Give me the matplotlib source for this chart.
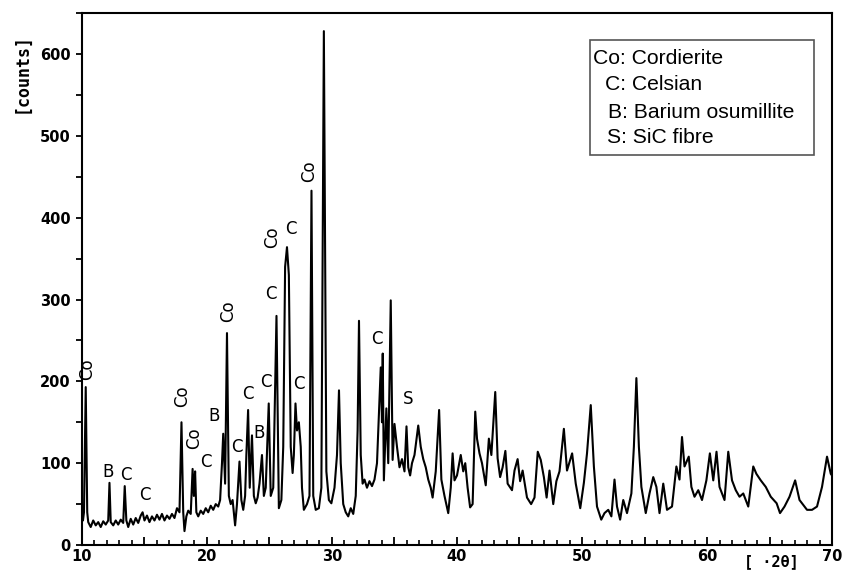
import matplotlib.pyplot as plt
from matplotlib.ticker import MultipleLocator, FuncFormatter

# XRD pattern (2theta in degrees, intensity in counts)
two_theta = [
    10.0, 10.08, 10.16, 10.3, 10.42, 10.5, 10.7, 10.9, 11.1, 11.3, 11.5, 11.7, 11.9,
    12.1, 12.2, 12.3, 12.5, 12.7, 12.9, 13.1, 13.3, 13.42, 13.55, 13.7, 13.9, 14.1,
    14.3, 14.5, 14.7, 14.85, 15.0, 15.2, 15.4, 15.6, 15.8, 16.0, 16.2, 16.4, 16.6,
    16.8, 17.0, 17.2, 17.4, 17.6, 17.8, 17.96, 18.1, 18.2, 18.35, 18.5, 18.7, 18.85,
    18.95, 19.05, 19.15, 19.3, 19.5, 19.7, 19.9, 20.1, 20.3, 20.5, 20.7, 20.9, 21.05,
    21.2, 21.3, 21.45, 21.6, 21.75, 21.9, 22.05, 22.25, 22.4, 22.6, 22.75, 22.9, 23.05,
    23.15, 23.29, 23.42, 23.6, 23.75, 23.9, 24.05, 24.2, 24.4, 24.55, 24.7, 24.94, 25.1,
    25.3, 25.56, 25.75, 25.95, 26.1, 26.25, 26.4, 26.55, 26.7, 26.85, 26.95, 27.08,
    27.2, 27.35, 27.5, 27.6, 27.75, 28.0, 28.2, 28.36, 28.5, 28.7, 28.95, 29.15, 29.35,
    29.55, 29.75, 29.95, 30.2, 30.4, 30.56, 30.7, 30.9, 31.1, 31.3, 31.5, 31.7, 31.9,
    32.05, 32.16, 32.3, 32.45, 32.6, 32.8, 33.0, 33.2, 33.4, 33.6, 33.75, 33.9, 34.0,
    34.06, 34.15, 34.35, 34.5, 34.7, 34.85, 35.0, 35.2, 35.4, 35.6, 35.8, 35.96, 36.1,
    36.25, 36.4, 36.6, 36.9, 37.1, 37.3, 37.5, 37.7, 37.9, 38.05, 38.3, 38.57, 38.75,
    39.0, 39.3, 39.5, 39.65, 39.8, 40.0, 40.3, 40.5, 40.66, 40.85, 41.05, 41.25, 41.46,
    41.6, 41.8, 42.0, 42.3, 42.55, 42.75, 43.06, 43.25, 43.45, 43.65, 43.87, 44.05,
    44.4, 44.6, 44.85, 45.05, 45.25, 45.6, 45.93, 46.2, 46.46, 46.7, 46.95, 47.17, 47.4,
    47.7, 47.95, 48.2, 48.55, 48.8, 49.21, 49.5, 49.86, 50.15, 50.4, 50.7, 50.95, 51.2,
    51.54, 51.8, 52.1, 52.35, 52.6, 52.8, 53.05, 53.3, 53.6, 53.95, 54.15, 54.35, 54.55,
    54.75, 55.1, 55.4, 55.7, 55.95, 56.2, 56.5, 56.8, 57.2, 57.55, 57.8, 58.0, 58.2,
    58.54, 58.75, 59.0, 59.3, 59.6, 59.95, 60.23, 60.5, 60.76, 61.0, 61.4, 61.7, 62.0,
    62.3, 62.6, 62.9, 63.3, 63.7, 63.95, 64.3, 64.7, 65.1, 65.57, 65.84, 66.2, 66.6,
    67.05, 67.4, 68.0, 68.4, 68.8, 69.2, 69.6, 69.9, 70.0,
]
counts = [
    46, 30, 40, 193, 40, 28, 22, 30, 24, 28, 22, 29, 25,
    30, 76, 28, 24, 30, 25, 31, 27, 72, 30, 22, 32, 25,
    33, 27, 36, 40, 30, 36, 28, 35, 30, 37, 31, 38, 30,
    36, 32, 38, 33, 45, 40, 150, 40, 17, 35, 42, 38, 93,
    60, 90, 40, 35, 42, 38, 45, 40, 48, 43, 50, 47, 55,
    100, 136, 75, 259, 60, 50, 55, 24, 50, 102, 55, 43, 60,
    110, 165, 70, 134, 60, 51, 58, 75, 110, 60, 70, 173, 60,
    70, 280, 45, 55, 120, 340, 364, 330, 120, 88, 110, 173,
    140, 150, 120, 70, 43, 50, 60, 433, 60, 43, 45, 70, 628,
    90, 55, 51, 70, 110, 189, 100, 50, 40, 35, 45, 38, 60,
    140, 274, 110, 75, 80, 70, 78, 72, 80, 100, 160, 217, 150,
    234, 79, 167, 100, 299, 104, 148, 120, 95, 105, 90, 145, 95,
    85, 100, 110, 146, 120, 105, 95, 80, 70, 58, 90, 165, 80,
    60, 39, 70, 112, 79, 85, 110, 90, 100, 70, 46, 50, 163,
    130, 112, 100, 73, 130, 110, 187, 106, 83, 95, 115, 75,
    67, 91, 105, 78, 91, 58, 50, 58, 114, 104, 83, 58, 91,
    50, 78, 90, 142, 91, 112, 75, 45, 76, 112, 171, 96, 47,
    31, 39, 43, 35, 80, 47, 31, 55, 39, 63, 120, 204, 120,
    71, 39, 63, 83, 71, 39, 75, 43, 47, 96, 80, 132, 96,
    108, 71, 59, 67, 55, 79, 112, 79, 114, 71, 55, 114, 79,
    67, 59, 63, 47, 96, 87, 79, 71, 59, 51, 39, 47, 59,
    79, 55, 43, 43, 47, 71, 108, 87, 85,
]

# phase labels over the peaks
peak_names = ['Co', 'B', 'C', 'C', 'Co', 'Co', 'C', 'B', 'Co', 'C', 'C', 'B', 'C',
              'C', 'Co', 'C', 'C', 'Co', 'C', 'S']
peak_x = [10.45, 12.1, 13.5, 15.0, 18.0, 19.0, 19.9, 20.6, 21.7, 22.4, 23.3, 24.2, 24.7,
          25.15, 25.2, 26.7, 27.35, 28.15, 33.6, 36.1]
peak_y = [215, 89, 85, 61, 182, 131, 102, 158, 286, 120, 185, 137, 199,
          307, 376, 386, 197, 457, 252, 179]

legend_lines = ['Co: Cordierite', 'C: Celsian', 'B: Barium osumillite', 'S: SiC fibre']


def plot_pattern():
    fig = plt.figure(figsize=(8.53, 5.71), dpi=100)
    ax = fig.add_axes([0.0961, 0.0455, 0.8793, 0.9315])

    ax.plot(two_theta, counts, color='black', linewidth=1.5)

    for name, x, y in zip(peak_names, peak_x, peak_y):
        rot = 90 if name == 'Co' else 0
        ax.text(x, y, name, rotation=rot, ha='center', va='center',
                fontsize=12, family='DejaVu Sans')

    ax.set_xlim(10, 70)
    ax.set_ylim(0, 650)

    ax.xaxis.set_major_locator(MultipleLocator(5))
    ax.xaxis.set_minor_locator(MultipleLocator(1))
    ax.xaxis.set_major_formatter(FuncFormatter(lambda v, p: '%d' % v if v % 10 == 0 else ''))
    ax.yaxis.set_major_locator(MultipleLocator(100))
    ax.yaxis.set_minor_locator(MultipleLocator(50))

    ax.tick_params(axis='x', which='major', direction='in', length=6, width=1.3, pad=3)
    ax.tick_params(axis='x', which='minor', direction='in', length=3.5, width=1.2)
    ax.tick_params(axis='y', which='both', direction='out', length=4, width=1.3, pad=4)
    for lab in ax.get_xticklabels() + ax.get_yticklabels():
        lab.set_fontweight('bold')
        lab.set_fontsize(10.5)

    for sp in ax.spines.values():
        sp.set_linewidth(1.5)

    # legend box of the phases
    ax.add_patch(plt.Rectangle((50.66, 477), 17.88, 140, fill=False,
                               edgecolor='#555555', linewidth=1.2))
    line_x = [50.9, 51.85, 52.1, 52.0]
    line_y = [594, 563, 528, 498]
    for txt, x, y in zip(legend_lines, line_x, line_y):
        ax.text(x, y, txt, ha='left', va='center', fontsize=15.2, family='Liberation Sans')

    fig.text(0.025, 0.873, '[counts]', rotation=90, ha='center', va='center',
             fontsize=12, fontweight='bold', family='DejaVu Sans Mono')
    fig.text(0.904, 0.017, '[ \u00b72\u03b8]', ha='center', va='center',
             fontsize=11, fontweight='bold', family='DejaVu Sans Mono')

    fig.savefig('out.png', dpi=100)


if __name__ == '__main__':
    plot_pattern()
